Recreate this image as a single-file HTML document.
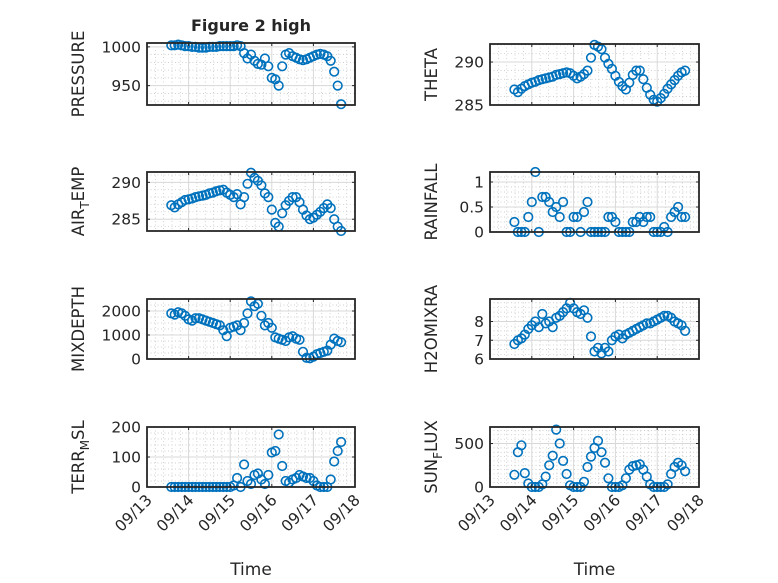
<!DOCTYPE html>
<html><head><meta charset="utf-8"><style>
body{margin:0;background:#fff}svg{display:block}
text{font-family:"DejaVu Sans","Liberation Sans",sans-serif;fill:#262626}
</style></head><body>
<svg id="fig" width="778" height="583" viewBox="0 0 778 583" xmlns="http://www.w3.org/2000/svg">
<rect width="778" height="583" fill="#fff"/>
<text x="251" y="31" text-anchor="middle" font-size="16" font-weight="bold">Figure 2 high</text>
</svg>
<script>
// hours since 09/13 00:00
const hours=[14,16,18,20,22,24,26,28,30,32,34,36,38,40,42,44,46,48,50,52,54,56,58,60,62,64,66,68,70,72,74,76,78,80,82,84,86,88,90,92,94,96,98,100,102,104,106,108,110,112];
const xTickLabels=["09/13","09/14","09/15","09/16","09/17","09/18"];
const pressure=[1002,1002,1003,1002,1001,1001,1000,1000,999,999,999,1000,1000,1000,1001,1001,1001,1001,1001,1002,1001,992,985,990,982,978,977,985,975,960,958,950,975,990,992,988,986,984,983,984,986,988,990,991,990,988,982,968,950,926];
const theta=[286.8,286.5,286.9,287.2,287.4,287.6,287.7,287.9,288.0,288.1,288.2,288.3,288.5,288.6,288.7,288.8,288.7,288.4,288.1,288.3,288.6,289.0,290.5,292.0,291.8,291.5,290.5,289.8,289.2,288.4,287.7,287.2,286.8,287.6,288.5,289.0,289.0,288.0,287.0,286.2,285.6,285.4,285.8,286.3,286.9,287.4,287.9,288.4,288.8,289.0];
const airTemp=[286.9,286.6,287.0,287.3,287.6,287.7,287.8,288.0,288.1,288.2,288.3,288.5,288.6,288.8,288.9,289.0,288.6,288.3,288.0,288.4,287.0,288.0,289.8,291.3,290.6,290.2,289.6,288.5,288.0,286.3,284.5,284.0,285.8,286.9,287.5,288.0,288.0,287.3,286.3,285.5,285.0,285.2,285.6,286.0,286.5,287.0,286.5,285.0,284.0,283.4];
const rainfall=[0.2,0,0,0,0.3,0.6,1.2,0,0.7,0.7,0.6,0.4,0.5,0.3,0.6,0,0,0.3,0.3,0,0.4,0.6,0,0,0,0,0,0.3,0.3,0.2,0,0,0,0,0.2,0.2,0.3,0.2,0.3,0.3,0,0,0,0.1,0,0.3,0.4,0.5,0.3,0.3];
const mixDepth=[1900,1850,1950,1900,1800,1650,1600,1700,1700,1650,1600,1550,1500,1450,1400,1200,950,1300,1350,1400,1200,1500,1900,2400,2200,2300,1800,1400,1500,1300,900,850,800,750,900,950,850,800,300,50,30,100,200,250,300,350,600,850,750,700];
const h2oMix=[6.8,7.0,7.1,7.3,7.6,7.8,8.0,7.7,8.4,7.9,8.0,7.7,8.2,8.3,8.5,8.7,9.0,8.7,8.5,8.4,8.6,8.2,7.2,6.4,6.6,6.3,6.6,6.4,7.0,7.2,7.3,7.1,7.3,7.4,7.5,7.6,7.7,7.8,7.9,7.9,8.0,8.1,8.2,8.3,8.3,8.2,8.0,7.9,7.8,7.5];
const terrMsl=[0,0,0,0,0,0,0,0,0,0,0,0,0,0,0,0,0,0,5,30,0,75,20,10,40,45,25,10,40,115,120,175,70,20,15,25,30,40,35,30,30,20,5,0,0,0,25,85,120,150];
const sunFlux=[140,400,480,160,40,0,0,0,30,120,250,360,660,500,300,150,20,0,0,0,60,230,350,450,530,400,280,100,0,0,0,20,100,200,240,250,260,200,120,30,0,0,0,0,30,150,230,280,250,180];
const pressureTicks=[950,1000];
const thetaTicks=[285,290];
const airTicks=[285,290];
const rainTicks=[0,0.5,1];
const mixTicks=[0,1000,2000];
const h2oTicks=[6,7,8];
const terrTicks=[0,100,200];
const sunTicks=[0,500];

const svg=document.getElementById('fig');
const NS='http://www.w3.org/2000/svg';
function mk(tag,attrs,parent){const e=document.createElementNS(NS,tag);for(const k in attrs)e.setAttribute(k,attrs[k]);(parent||svg).appendChild(e);return e;}

const panels=[
 {name:'pressure',x:147,y:43,w:208,h:62,ymin:925,ymax:1005,ticks:pressureTicks,minor:10,data:pressure,label:['PRESSURE'],lx:84,bottom:false},
 {name:'theta',x:490,y:44,w:209,h:61,ymin:285,ymax:292.1,ticks:thetaTicks,minor:1,data:theta,label:['THETA'],lx:437,bottom:false},
 {name:'air-temp',x:147,y:172,w:208,h:59,ymin:283.4,ymax:291.4,ticks:airTicks,minor:1,data:airTemp,label:['AIR','T','EMP'],lx:84,bottom:false},
 {name:'rainfall',x:490,y:172,w:209,h:60,ymin:0,ymax:1.2,ticks:rainTicks,minor:0.1,data:rainfall,label:['RAINFALL'],lx:437,bottom:false},
 {name:'mixdepth',x:147,y:299,w:208,h:60,ymin:0,ymax:2500,ticks:mixTicks,minor:250,data:mixDepth,label:['MIXDEPTH'],lx:84,bottom:false},
 {name:'h2omixra',x:490,y:299,w:209,h:60,ymin:6,ymax:9.2,ticks:h2oTicks,minor:0.25,data:h2oMix,label:['H2OMIXRA'],lx:437,bottom:false},
 {name:'terr-msl',x:147,y:427,w:208,h:60,ymin:0,ymax:200,ticks:terrTicks,minor:20,data:terrMsl,label:['TERR','M','SL'],lx:84,bottom:true},
 {name:'sun-flux',x:490,y:427,w:209,h:60,ymin:0,ymax:690,ticks:sunTicks,minor:50,data:sunFlux,label:['SUN','F','LUX'],lx:437,bottom:true}
];

panels.forEach(p=>{
 const g=mk('g',{});
 
 
 const xs=d=>p.x+(d/5)*p.w;
 const ys=v=>p.y+p.h-(v-p.ymin)/(p.ymax-p.ymin)*p.h;
 mk('rect',{x:p.x,y:p.y,width:p.w,height:p.h,fill:'#fff'},g);
 for(let d=0.2;d<5;d+=0.2){if(Math.abs(d-Math.round(d))<1e-6)continue;mk('line',{x1:xs(d),x2:xs(d),y1:p.y,y2:p.y+p.h,stroke:'#c0c0c0','stroke-width':0.7,'stroke-dasharray':'1 2.5'},g);}
 const m0=Math.ceil(p.ymin/p.minor)*p.minor;
 for(let v=m0;v<p.ymax;v+=p.minor){mk('line',{x1:p.x,x2:p.x+p.w,y1:ys(v),y2:ys(v),stroke:'#c0c0c0','stroke-width':0.7,'stroke-dasharray':'1 2.5'},g);}
 for(let d=1;d<5;d++)mk('line',{x1:xs(d),x2:xs(d),y1:p.y,y2:p.y+p.h,stroke:'#d8d8d8','stroke-width':1},g);
 p.ticks.forEach(t=>{mk('line',{x1:p.x,x2:p.x+p.w,y1:ys(t),y2:ys(t),stroke:'#d8d8d8','stroke-width':1},g);});
 p.data.forEach((v,i)=>{
  const c=mk('circle',{cx:xs(hours[i]/24).toFixed(1),cy:ys(v).toFixed(1),r:4.3,fill:'none',stroke:'#0072BD','stroke-width':1.6},g);
  
  
 });
 mk('rect',{x:p.x,y:p.y,width:p.w,height:p.h,fill:'none',stroke:'#262626','stroke-width':1.8},g);
 for(let d=1;d<5;d++){mk('line',{x1:xs(d),x2:xs(d),y1:p.y+p.h,y2:p.y+p.h-3,stroke:'#262626'},g);mk('line',{x1:xs(d),x2:xs(d),y1:p.y,y2:p.y+3,stroke:'#262626'},g);}
 p.ticks.forEach(t=>{
  mk('line',{x1:p.x,x2:p.x+3,y1:ys(t),y2:ys(t),stroke:'#262626'},g);
  mk('line',{x1:p.x+p.w,x2:p.x+p.w-3,y1:ys(t),y2:ys(t),stroke:'#262626'},g);
  const tl=mk('text',{x:p.x-6,y:ys(t)+5.5,'text-anchor':'end','font-size':15.5},g);
  tl.textContent=String(t);
  
  
 });
 const cy=p.y+p.h/2;
 const yl=mk('text',{x:0,y:0,'text-anchor':'middle','font-size':16.5,transform:`translate(${p.lx},${cy}) rotate(-90)`},g);
 
 
 if(p.label.length===1){yl.textContent=p.label[0];}
 else{
  const a=mk('tspan',{},yl);a.textContent=p.label[0];
  const b=mk('tspan',{dy:5,'font-size':12},yl);b.textContent=p.label[1];
  const c2=mk('tspan',{dy:-5},yl);c2.textContent=p.label[2];
 }
 if(p.bottom){
  xTickLabels.forEach((s,k)=>{
   const tx=xs(k),ty=p.y+p.h+8;
   const t=mk('text',{x:0,y:0,'text-anchor':'end','font-size':15.5,transform:`translate(${tx+6},${ty+6}) rotate(-45)`},g);
   t.textContent=s;
   
   
  });
  const xl=mk('text',{x:p.x+p.w/2,y:575,'text-anchor':'middle','font-size':17},g);
  xl.textContent='Time';
  
  
 }
});
</script>
</body></html>
